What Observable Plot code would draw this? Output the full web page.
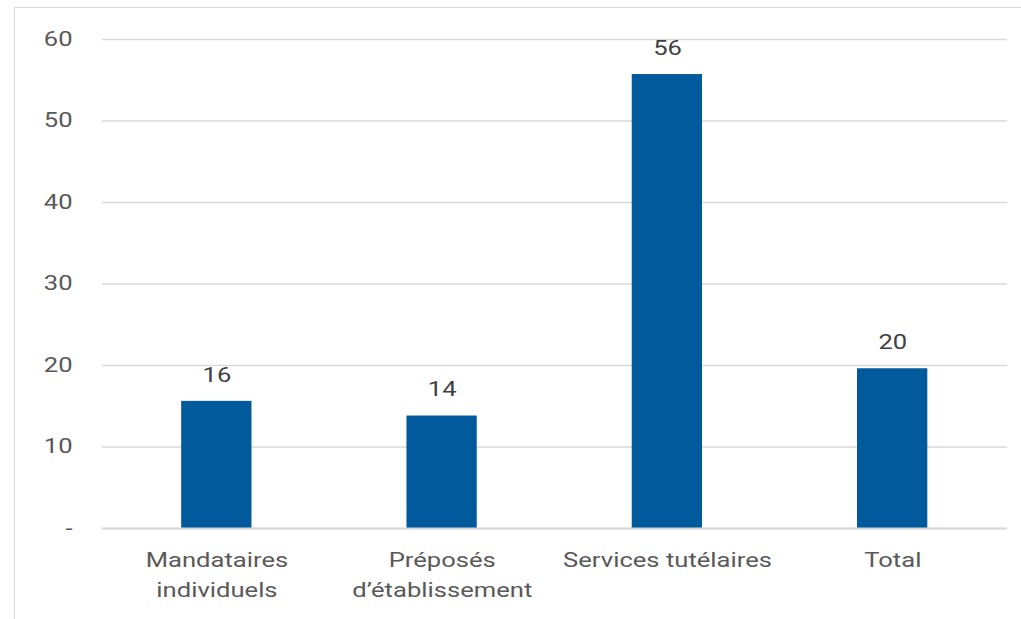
<!DOCTYPE html>
<html><head><meta charset="utf-8">
<script src="https://cdn.jsdelivr.net/npm/d3@7"></script>
<script src="https://cdn.jsdelivr.net/npm/@observablehq/plot@0.6"></script>
<style>
body{margin:0;background:#fff;}
#wrap{position:relative;width:1021px;height:619px;overflow:hidden;}
#frame{position:absolute;left:14px;top:7px;width:1020px;height:640px;border:1.5px solid #d9d9d9;box-sizing:border-box;}
#chart{position:absolute;left:0;top:0;transform-origin:0 0;transform:scaleX(1.28);}
</style></head>
<body><div id="wrap"><div id="frame"></div><div id="chart"></div></div>
<script>
const categories = ["Mandataires\nindividuels", "Préposés\nd’établissement", "Services tutélaires", "Total"];
const values = [15.6, 13.8, 55.7, 19.6];
const labels = ["16", "14", "56", "20"];
const yTicks = [0, 10, 20, 30, 40, 50, 60];

const data = categories.map((c, i) => ({cat: c, v: values[i], lab: labels[i]}));
const S = 1.28;

const chart = Plot.plot({
  width: 1021 / S, height: 619,
  marginLeft: 102 / S, marginRight: 14 / S, marginTop: 39, marginBottom: 91,
  style: {fontFamily: "Roboto, sans-serif", fontSize: "20px", color: "#595959", background: "transparent", overflow: "visible"},
  x: {domain: categories, padding: 0, label: null},
  y: {domain: [0, 60], ticks: yTicks, label: null},
  marks: [
    Plot.gridY(yTicks, {stroke: "#d9d9d9", strokeOpacity: 1, strokeWidth: 1.5}),
    Plot.axisY({ticks: yTicks, tickSize: 0, tickPadding: 30 / S, tickFormat: d => d === 0 ? "-" : d, fill: "#595959", fontSize: 20, label: null}),
    Plot.axisX({tickSize: 0, tickPadding: 17, fill: "#595959", fontSize: 20, lineHeight: 1.5, label: null}),
    Plot.barY(data, {x: "cat", y: "v", fill: "#005a9c", insetLeft: 77.5 / S, insetRight: 77.5 / S}),
    Plot.text(data, {x: "cat", y: "v", text: "lab", dy: -26, fill: "#404040", fontSize: 20}),
    Plot.ruleY([0], {stroke: "#d9d9d9", strokeWidth: 2})
  ]
});
document.getElementById("chart").appendChild(chart);
</script></body></html>
